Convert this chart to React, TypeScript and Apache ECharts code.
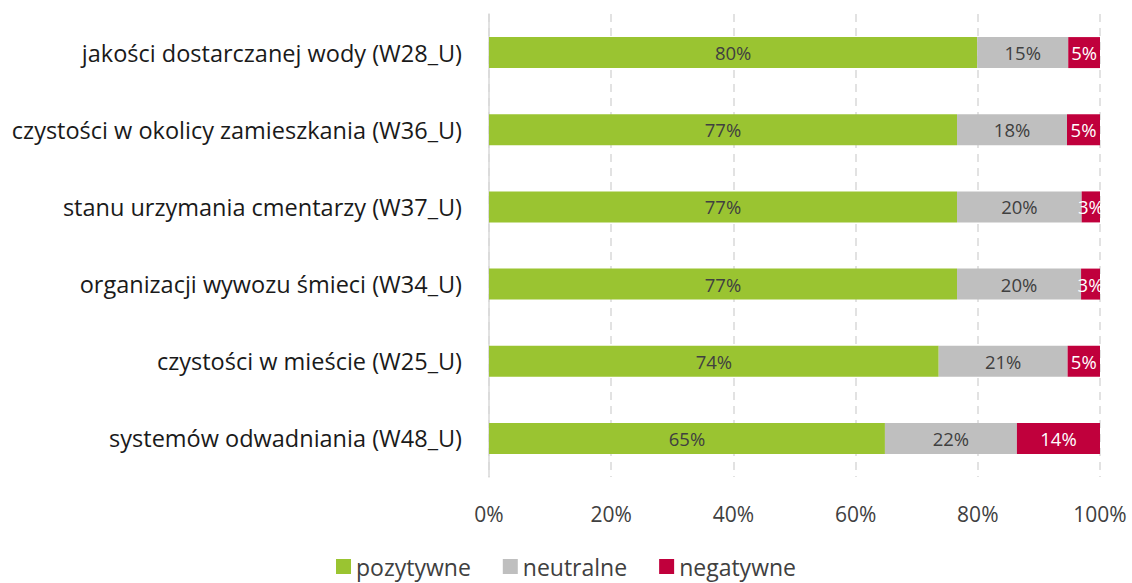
import React, { useEffect, useRef } from "react";
import * as echarts from "echarts";

const categories = [
  "jakości dostarczanej wody (W28_U)",
  "czystości w okolicy zamieszkania (W36_U)",
  "stanu urzymania cmentarzy (W37_U)",
  "organizacji wywozu śmieci (W34_U)",
  "czystości w mieście (W25_U)",
  "systemów odwadniania (W48_U)",
];
const pozytywne = [79.9, 76.6, 76.6, 76.6, 73.6, 64.8];
const neutralne = [14.9, 18.0, 20.4, 20.3, 21.1, 21.6];
const negatywne = [5.2, 5.4, 3.0, 3.1, 5.3, 13.6];
const xTicks = [0, 20, 40, 60, 80, 100];

const FONT = "Open Sans";

export default function App() {
  const ref = useRef<HTMLDivElement>(null);
  useEffect(() => {
    if (!ref.current) return;
    const chart = echarts.init(ref.current, null, { renderer: "svg" });
    const cats = [...categories].reverse();
    const rev = (a: number[]) => [...a].reverse();
    const lbl = (color: string) => ({
      show: true,
      position: "inside" as const,
      color,
      fontFamily: FONT,
      fontSize: 18.5,
      formatter: (p: any) => Math.round(p.value) + "%",
    });
    chart.setOption({
      animation: false,
      textStyle: { fontFamily: FONT },
      grid: { left: 489, right: 32, top: 14, bottom: 106, containLabel: false },
      legend: {
        bottom: 0,
        left: "center",
        itemWidth: 15,
        itemHeight: 15,
        itemGap: 32,
        icon: "rect",
        textStyle: { fontFamily: FONT, fontSize: 23, color: "#404040" },
        data: ["pozytywne", "neutralne", "negatywne"],
      },
      xAxis: {
        type: "value",
        min: 0,
        max: 100,
        interval: 20,
        axisLabel: {
          formatter: (v: number) => (xTicks.includes(v) ? v + "%" : ""),
          color: "#404040",
          fontFamily: FONT,
          fontSize: 21,
          margin: 26,
        },
        axisLine: { show: false },
        axisTick: { show: false },
        splitLine: {
          show: true,
          lineStyle: { color: "#d9d9d9", type: [8, 6], width: 1.5 },
        },
      },
      yAxis: {
        type: "category",
        data: cats,
        axisLine: { show: true, lineStyle: { color: "#d9d9d9", width: 1.5 } },
        axisTick: { show: false },
        axisLabel: {
          color: "#1a1a1a",
          fontFamily: FONT,
          fontSize: 23.5,
          margin: 27,
        },
      },
      series: [
        {
          name: "pozytywne",
          type: "bar",
          stack: "s",
          barWidth: 31,
          data: rev(pozytywne),
          itemStyle: { color: "#9ac431" },
          label: lbl("#404040"),
        },
        {
          name: "neutralne",
          type: "bar",
          stack: "s",
          barWidth: 31,
          data: rev(neutralne),
          itemStyle: { color: "#bfbfbf" },
          label: lbl("#404040"),
        },
        {
          name: "negatywne",
          type: "bar",
          stack: "s",
          barWidth: 31,
          data: rev(negatywne),
          itemStyle: { color: "#c0003c" },
          label: lbl("#ffffff"),
        },
      ],
    });
    return () => chart.dispose();
  }, []);
  return (
    <div
      ref={ref}
      style={{ position: "fixed", left: 0, top: 0, width: 1132, height: 583, background: "#fff" }}
    />
  );
}
